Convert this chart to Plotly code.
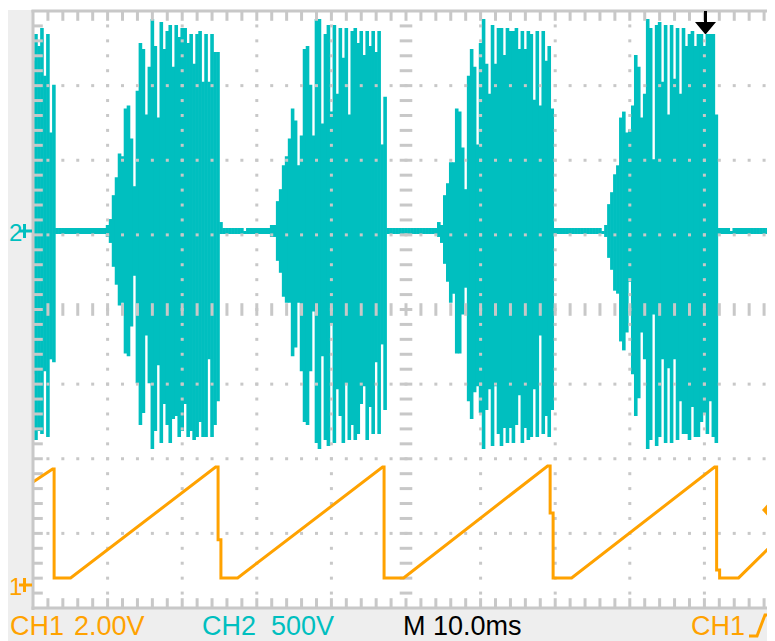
import numpy as np
import plotly.graph_objects as go

# ---------------- canvas / screen geometry ----------------
# The page keeps the browser's default 8 px body margin, so the figure's
# top-left corner sits at (8, 8) of the window; coordinates below are window pixels.
W, H = 775, 641
OFF = 8
PLOT_L, PLOT_T, PLOT_B = 33, 11, 608          # window pixels
PX_PER_DIV = 74.6
PW = 10 * PX_PER_DIV                           # 10 horizontal divisions
PH = PLOT_B - PLOT_T                           # 8 vertical divisions
ML, MT = PLOT_L - OFF, PLOT_T - OFF
MR = W - ML - PW
MB = H - MT - PH

# ---------------- scope settings (from the readout) ----------------
CH1_V_PER_DIV = 2.0
CH2_V_PER_DIV = 500.0
MS_PER_DIV = 10.0
LEVELS_PER_DIV = 25          # digitizer levels (and record columns) per division
CH1_GROUND_DIV = -3.692      # "1" ground marker position
CH2_GROUND_DIV = 1.052       # "2" ground marker position
N_COLUMNS = 249

# ---------------- CH2 (cyan) peak-detect envelope ----------------
# per record column: max above ground / min below ground, in digitizer levels
ch2_idle_top = 1
ch2_idle_bottom = 1

ch2_burst1_start = 0
ch2_burst1_top = [57, 66, 62, 68, 52, 66, 33, 49]
ch2_burst1_bottom = [48, 70, 67, 68, 47, 69, 43, 44]

ch2_burst2_start = 25
ch2_burst2_top = [2, 4, 12, 18, 26, 25, 41, 42, 31, 15, 47, 63, 61, 39, 55, 71, 62, 38, 70, 61,
                  67, 69, 55, 69, 65, 68, 68, 63, 66, 56, 66, 67, 50, 66, 50, 66, 60, 60, 3]
ch2_burst2_bottom = [2, 4, 12, 18, 25, 24, 41, 42, 32, 15, 51, 65, 61, 35, 51, 73, 67, 45, 71, 58,
                     65, 71, 63, 62, 69, 67, 58, 69, 67, 70, 69, 64, 69, 69, 43, 69, 65, 57, 1]

ch2_burst3_start = 80
ch2_burst3_top = [2, 2, 10, 14, 22, 25, 31, 41, 37, 22, 32, 61, 62, 49, 32, 71, 71, 36, 66, 69,
                  40, 69, 46, 68, 58, 68, 39, 67, 68, 63, 67, 59, 67, 62, 67, 60, 67, 29, 45]
ch2_burst3_bottom = [2, 2, 10, 14, 22, 24, 24, 42, 39, 24, 47, 64, 65, 47, 27, 71, 73, 42, 70, 72,
                     31, 71, 53, 62, 71, 51, 70, 65, 70, 68, 58, 52, 70, 59, 68, 44, 68, 38, 60]

ch2_burst4_start = 136
ch2_burst4_top = [3, 2, 12, 16, 23, 23, 41, 40, 28, 14, 52, 61, 55, 29, 63, 71, 56, 46, 69, 56,
                  68, 68, 59, 68, 67, 67, 68, 61, 67, 61, 67, 66, 44, 67, 42, 67, 57, 62, 41]
ch2_burst4_bottom = [2, 4, 11, 17, 24, 21, 41, 41, 28, 19, 57, 63, 54, 52, 61, 73, 60, 53, 72, 52,
                     68, 72, 66, 71, 66, 71, 65, 55, 71, 66, 70, 69, 53, 69, 35, 68, 62, 69, 60]

ch2_burst5_start = 191
ch2_burst5_top = [0, 2, 9, 13, 19, 22, 38, 40, 33, 34, 42, 59, 55, 38, 46, 71, 68, 24, 69, 70,
                  50, 69, 39, 69, 51, 68, 46, 68, 62, 66, 67, 62, 66, 66, 62, 66, 66, 66, 39]
ch2_burst5_bottom = [1, 2, 9, 13, 20, 21, 37, 40, 34, 17, 48, 62, 56, 34, 43, 73, 70, 28, 72, 69,
                     43, 71, 46, 71, 43, 70, 57, 68, 68, 70, 59, 69, 69, 64, 61, 68, 57, 69, 71]

ch2_other_cols = [71, 234, 247, 248]
ch2_other_top = [0, 0, 2, 4]
ch2_other_bottom = [1, 1, 2, 6]

# ---------------- CH1 (orange) sawtooth, corner points ----------------
ch1_time_ms = [0.0, 2.63, 2.83, 2.83, 5.04, 24.48, 24.81, 24.81, 25.19, 25.19, 27.43,
               46.86, 47.06, 47.06, 49.68, 68.98, 69.32, 69.32, 69.72, 69.72, 72.20,
               91.37, 91.64, 91.64, 92.04, 92.04, 94.58, 100.0]
ch1_volts = [2.76, 3.11, 3.11, 0.19, 0.19, 3.16, 3.16, 1.21, 1.21, 0.19, 0.19,
             3.16, 3.16, 0.19, 0.19, 3.19, 3.19, 1.93, 1.93, 0.19, 0.19,
             3.16, 3.16, 0.40, 0.40, 0.19, 0.19, 1.26]

# ---------------- readout text ----------------
readout_ch1 = ["CH1", "2.00V"]
readout_ch2 = ["CH2", "500V"]
readout_time = "M 10.0ms"
readout_trig = "CH1"

# ---------------- colours ----------------
CYAN = "rgb(0,191,191)"
ORANGE = "rgb(255,162,0)"
GRID = "rgb(200,200,200)"
PANEL = "rgb(238,238,238)"
FONT = "Liberation Sans, Arial, sans-serif"


def pxx(X):
    return (X - PLOT_L) / PW


def pxy(Y):
    return (PLOT_B - Y) / PH


# ---------------- assemble CH2 column envelope ----------------
top = np.full(N_COLUMNS, ch2_idle_top, dtype=float)
bot = np.full(N_COLUMNS, ch2_idle_bottom, dtype=float)
for s, t, b in [(ch2_burst1_start, ch2_burst1_top, ch2_burst1_bottom),
                (ch2_burst2_start, ch2_burst2_top, ch2_burst2_bottom),
                (ch2_burst3_start, ch2_burst3_top, ch2_burst3_bottom),
                (ch2_burst4_start, ch2_burst4_top, ch2_burst4_bottom),
                (ch2_burst5_start, ch2_burst5_top, ch2_burst5_bottom)]:
    top[s:s + len(t)] = t
    bot[s:s + len(b)] = b
for c, t, b in zip(ch2_other_cols, ch2_other_top, ch2_other_bottom):
    top[c] = t
    bot[c] = b

volts_per_level = CH2_V_PER_DIV / LEVELS_PER_DIV
ch2_max_v = top * volts_per_level
ch2_min_v = -bot * volts_per_level
col_ms = np.arange(N_COLUMNS) * MS_PER_DIV / LEVELS_PER_DIV

seg_x, seg_y = [], []
for t, vmax, vmin in zip(col_ms, ch2_max_v, ch2_min_v):
    seg_x += [t, t, None]
    seg_y += [CH2_GROUND_DIV + vmin / CH2_V_PER_DIV, CH2_GROUND_DIV + vmax / CH2_V_PER_DIV, None]

ch1_y = [CH1_GROUND_DIV + v / CH1_V_PER_DIV for v in ch1_volts]

fig = go.Figure()

fig.add_trace(go.Scatter(x=seg_x, y=seg_y, mode="lines", connectgaps=False,
                         line=dict(color=CYAN, width=3.6), hoverinfo="skip", showlegend=False))

# ---------------- graticule ----------------
minor_x = np.arange(1, 50) * MS_PER_DIV / 5
minor_y = -4 + np.arange(1, 40) * 0.2
major_x = [10, 20, 30, 40, 60, 70, 80, 90]
major_y = [-3, -2, -1, 1, 2, 3]
dot_x = [x for x in major_x for _ in minor_y] + [x for _ in major_y for x in minor_x]
dot_y = [y for _ in major_x for y in minor_y] + [y for y in major_y for _ in minor_x]
fig.add_trace(go.Scatter(x=dot_x, y=dot_y, mode="markers",
                         marker=dict(symbol="square", size=3, color=GRID, line=dict(width=0)),
                         hoverinfo="skip", showlegend=False))
# centre cross dashes
fig.add_trace(go.Scatter(x=list(minor_x), y=[0] * len(minor_x), mode="markers",
                         marker=dict(symbol="line-ns", size=9, line=dict(width=3, color=GRID)),
                         hoverinfo="skip", showlegend=False))
fig.add_trace(go.Scatter(x=[50] * len(minor_y), y=list(minor_y), mode="markers",
                         marker=dict(symbol="line-ew", size=9, line=dict(width=3, color=GRID)),
                         hoverinfo="skip", showlegend=False))
# edge ticks
fig.add_trace(go.Scatter(x=list(minor_x) * 2, y=[4] * len(minor_x) + [-4] * len(minor_x), mode="markers",
                         marker=dict(symbol="line-ns", size=14, line=dict(width=3, color=GRID)),
                         hoverinfo="skip", showlegend=False, cliponaxis=True))
fig.add_trace(go.Scatter(x=[0] * len(minor_y), y=list(minor_y), mode="markers",
                         marker=dict(symbol="line-ew", size=14, line=dict(width=3, color=GRID)),
                         hoverinfo="skip", showlegend=False, cliponaxis=True))

fig.add_trace(go.Scatter(x=ch1_time_ms, y=ch1_y, mode="lines",
                         line=dict(color=ORANGE, width=3), hoverinfo="skip", showlegend=False))

shapes = []
# thin white strip above the panel
shapes.append(dict(type="rect", xref="paper", yref="paper", x0=pxx(0), x1=pxx(800), y0=pxy(10), y1=pxy(0),
                   fillcolor="white", line=dict(width=0), layer="below"))
# frame
for (x0, y0, x1, y1) in [(33, 10, 33, 610), (31.5, 11, 790, 11), (31.5, 608, 790, 608)]:
    shapes.append(dict(type="line", xref="paper", yref="paper", x0=pxx(x0), y0=pxy(y0), x1=pxx(x1), y1=pxy(y1),
                       line=dict(color=GRID, width=3), layer="above"))


def path(points, close=True):
    s = "M " + " L ".join(f"{pxx(a):.5f},{pxy(b):.5f}" for a, b in points)
    return s + (" Z" if close else "")


# trigger position arrow (top)
shapes.append(dict(type="path", xref="paper", yref="paper",
                   path=path([(704, 11), (707, 11), (707, 22), (716, 22), (706, 34), (705, 34), (695, 22), (704, 22)]),
                   fillcolor="black", line=dict(width=0), layer="above"))
# trigger level arrow (right)
shapes.append(dict(type="path", xref="paper", yref="paper",
                   path=path([(762, 510), (771, 500), (776, 500), (776, 520), (771, 520)]),
                   fillcolor=ORANGE, line=dict(width=0), layer="above"))
# ground markers
for (yc, col) in [(231, CYAN), (585, ORANGE)]:
    shapes.append(dict(type="line", xref="paper", yref="paper", x0=pxx(19), x1=pxx(32), y0=pxy(yc), y1=pxy(yc),
                       line=dict(color=col, width=3), layer="above"))
    shapes.append(dict(type="line", xref="paper", yref="paper", x0=pxx(24.5), x1=pxx(24.5), y0=pxy(yc - 7),
                       y1=pxy(yc + 7), line=dict(color=col, width=3), layer="above"))
# trigger slope symbol
shapes.append(dict(type="path", xref="paper", yref="paper",
                   path=path([(749, 636), (757, 636), (765, 615), (773, 615)], close=False),
                   line=dict(color=ORANGE, width=3), layer="above"))

annotations = []


def label(text, X, Y, color, size=27):
    annotations.append(dict(text=text, xref="paper", yref="paper", x=pxx(X), y=pxy(Y), xanchor="left",
                            yanchor="middle", showarrow=False, font=dict(family=FONT, size=size, color=color)))


label(readout_ch1[0], 8, 626, ORANGE)
label(readout_ch1[1], 72, 626, ORANGE)
label(readout_ch2[0], 200, 626, CYAN)
label(readout_ch2[1], 269, 626, CYAN)
label(readout_time, 401, 626, "black")
label(readout_trig, 689, 626, ORANGE)
label("2", 7, 232, CYAN, 24)
label("1", 7, 586, ORANGE, 24)

fig.update_layout(
    width=W, height=H,
    margin=dict(l=ML, r=MR, t=MT, b=MB, pad=0),
    paper_bgcolor=PANEL, plot_bgcolor="white",
    xaxis=dict(range=[0, 10 * MS_PER_DIV], visible=False, showgrid=False, zeroline=False, fixedrange=True),
    yaxis=dict(range=[-4, 4], visible=False, showgrid=False, zeroline=False, fixedrange=True),
    shapes=shapes, annotations=annotations, showlegend=False,
)

fig.write_html("out.html")
